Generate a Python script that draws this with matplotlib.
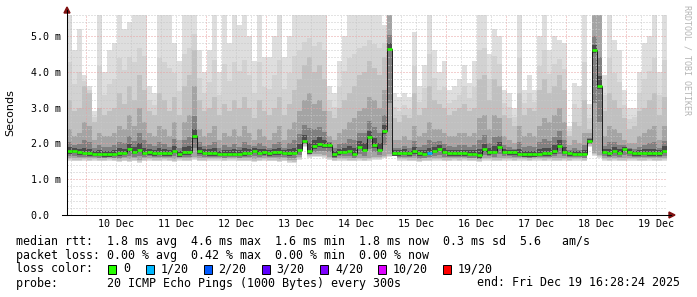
import datetime as dt
import numpy as np
import matplotlib
matplotlib.use("Agg")
import matplotlib.pyplot as plt
from matplotlib.lines import Line2D
from matplotlib.patches import Polygon, Rectangle

# ---------------- data (2-hour bins, ms) ----------------
start = dt.datetime(2025, 12, 9, 16, 28, 24)
bin_hours = 2

median = [
    1.78, 1.80, 1.75, 1.74, 1.72, 1.71, 1.71, 1.70, 1.70, 1.71, 1.73, 1.74,
    1.83, 1.76, 1.82, 1.74, 1.75, 1.73, 1.74, 1.72, 1.72, 1.80, 1.70, 1.75,
    1.75, 2.20, 1.78, 1.74, 1.73, 1.73, 1.71, 1.71, 1.71, 1.71, 1.71, 1.73,
    1.74, 1.80, 1.74, 1.75, 1.73, 1.75, 1.75, 1.74, 1.73, 1.74, 1.82, 2.07,
    1.78, 1.92, 1.98, 1.95, 1.95, 1.70, 1.75, 1.76, 1.80, 1.71, 1.90, 1.82,
    2.18, 1.95, 1.82, 2.34, 4.65, 1.73, 1.73, 1.74, 1.72, 1.78, 1.72, 1.71,
    1.74, 1.80, 1.85, 1.76, 1.73, 1.72, 1.72, 1.72, 1.71, 1.71, 1.67, 1.84,
    1.75, 1.76, 1.90, 1.77, 1.75, 1.75, 1.71, 1.70, 1.69, 1.70, 1.71, 1.72,
    1.73, 1.78, 1.93, 1.76, 1.72, 1.71, 1.71, 1.71, 2.07, 4.60, 3.60, 1.76,
    1.72, 1.80, 1.74, 1.85, 1.77, 1.72, 1.72, 1.74, 1.73, 1.72, 1.73, 1.80,
]
top = [
    5.6, 4.6, 5.2, 3.9, 3.6, 2.9, 5.6, 4.0, 4.6, 4.8, 5.6, 5.2,
    5.4, 5.6, 5.6, 5.6, 3.6, 3.4, 5.6, 5.6, 5.6, 4.8, 4.3, 5.6,
    5.6, 5.6, 4.6, 4.0, 4.6, 5.6, 4.0, 5.6, 4.8, 5.6, 5.3, 5.6,
    5.0, 4.3, 5.6, 4.4, 4.4, 5.0, 5.6, 4.4, 5.0, 5.6, 5.6, 5.6,
    5.6, 5.6, 5.6, 5.6, 3.6, 3.4, 4.3, 5.0, 5.6, 5.6, 5.6, 5.6,
    5.6, 5.6, 5.6, 5.3, 5.6, 3.4, 3.3, 3.4, 3.3, 5.1, 3.6, 4.2,
    5.6, 4.6, 4.0, 4.3, 3.5, 3.6, 3.8, 4.2, 3.7, 4.3, 5.6, 5.6,
    4.5, 5.2, 5.0, 3.5, 3.4, 3.0, 5.6, 3.5, 3.9, 3.5, 5.0, 5.6,
    4.6, 5.0, 4.9, 4.8, 2.5, 3.7, 3.6, 5.6, 3.1, 5.6, 5.6, 3.9,
    5.6, 4.9, 4.6, 3.5, 3.0, 3.0, 4.0, 4.8, 5.0, 5.6, 4.0, 5.6,
]
p80 = [
    3.2, 2.9, 3.0, 3.6, 3.4, 2.6, 3.0, 2.8, 2.9, 3.0, 3.4, 3.1,
    3.6, 3.2, 3.9, 3.5, 2.9, 2.8, 3.4, 3.2, 2.9, 3.3, 2.8, 3.6,
    3.9, 4.6, 3.2, 2.9, 3.0, 3.3, 2.8, 3.1, 2.9, 3.2, 3.0, 3.3,
    3.0, 2.7, 3.2, 2.9, 2.8, 3.0, 3.3, 2.8, 3.1, 3.5, 3.8, 4.2,
    4.4, 4.0, 4.2, 3.8, 2.9, 2.7, 3.0, 3.2, 3.4, 3.6, 3.9, 4.0,
    4.3, 4.1, 3.9, 4.4, 5.6, 2.7, 2.6, 2.8, 2.7, 3.4, 2.8, 3.0,
    3.6, 3.2, 3.1, 3.0, 2.8, 2.9, 3.0, 3.1, 2.9, 3.0, 3.8, 3.9,
    3.2, 3.8, 3.6, 2.8, 2.7, 2.5, 3.4, 2.8, 3.0, 2.9, 3.5, 3.8,
    3.4, 3.6, 3.9, 3.5, 2.2, 2.6, 2.5, 3.2, 2.4, 5.6, 5.6, 2.9,
    3.4, 3.2, 3.0, 2.7, 2.4, 2.5, 2.9, 3.0, 3.2, 3.4, 2.8, 3.3,
]
p65 = [
    2.4, 2.2, 2.3, 2.6, 2.5, 2.1, 2.3, 2.2, 2.2, 2.3, 2.5, 2.4,
    2.8, 2.5, 3.0, 2.6, 2.3, 2.2, 2.5, 2.4, 2.2, 2.6, 2.1, 2.6,
    2.8, 3.6, 2.4, 2.2, 2.3, 2.5, 2.1, 2.3, 2.2, 2.4, 2.2, 2.5,
    2.3, 2.1, 2.4, 2.2, 2.1, 2.3, 2.5, 2.1, 2.4, 2.6, 2.9, 3.2,
    3.4, 3.1, 3.2, 2.9, 2.2, 2.1, 2.3, 2.4, 2.6, 2.7, 2.9, 3.0,
    3.3, 3.2, 3.0, 3.5, 5.6, 2.1, 2.1, 2.2, 2.1, 2.5, 2.2, 2.3,
    2.6, 2.4, 2.4, 2.3, 2.2, 2.2, 2.3, 2.3, 2.2, 2.3, 2.7, 2.8,
    2.4, 2.8, 2.7, 2.2, 2.1, 2.0, 2.5, 2.2, 2.3, 2.2, 2.5, 2.7,
    2.6, 2.8, 3.0, 2.6, 1.95, 2.1, 2.0, 2.3, 2.3, 5.6, 5.6, 2.2,
    2.5, 2.4, 2.3, 2.1, 2.0, 2.0, 2.2, 2.3, 2.4, 2.5, 2.1, 2.5,
]
low = [
    1.52, 1.50, 1.50, 1.52, 1.50, 1.52, 1.50, 1.50, 1.52, 1.50, 1.48, 1.50,
    1.48, 1.50, 1.46, 1.50, 1.52, 1.50, 1.50, 1.52, 1.50, 1.48, 1.52, 1.50,
    1.50, 1.55, 1.50, 1.50, 1.52, 1.52, 1.52, 1.50, 1.52, 1.52, 1.50, 1.50,
    1.50, 1.48, 1.50, 1.52, 1.50, 1.50, 1.48, 1.50, 1.46, 1.45, 1.55, 1.90,
    1.60, 1.62, 1.62, 1.60, 1.55, 1.50, 1.52, 1.52, 1.50, 1.50, 1.52, 1.50,
    1.52, 1.55, 1.55, 1.58, 1.62, 1.72, 1.52, 1.52, 1.50, 1.50, 1.48, 1.50,
    1.50, 1.52, 1.52, 1.50, 1.50, 1.52, 1.50, 1.52, 1.50, 1.50, 1.48, 1.52,
    1.52, 1.50, 1.50, 1.52, 1.52, 1.50, 1.52, 1.52, 1.50, 1.52, 1.52, 1.50,
    1.52, 1.50, 1.50, 1.52, 1.50, 1.52, 1.52, 1.50, 1.90, 1.65, 1.60, 1.52,
    1.50, 1.52, 1.50, 1.50, 1.52, 1.52, 1.50, 1.50, 1.52, 1.50, 1.50, 1.52,
]
loss = [0] * 120
loss[72] = 1

loss_labels = ["0", "1/20", "2/20", "3/20", "4/20", "10/20", "19/20"]
loss_colors = ["#26ff00", "#00b8ff", "#0059ff", "#5e00ff", "#7e00ff", "#dd00ff", "#ff0000"]
day_labels = ["10 Dec", "11 Dec", "12 Dec", "13 Dec", "14 Dec",
              "15 Dec", "16 Dec", "17 Dec", "18 Dec", "19 Dec"]
ytick_vals = [0, 1, 2, 3, 4, 5]
ytick_labels = ["0.0  ", "1.0 m", "2.0 m", "3.0 m", "4.0 m", "5.0 m"]

# ---------------- figure ----------------
W, H = 697, 297
fig = plt.figure(figsize=(W / 100, H / 100), dpi=100)
fig.patch.set_facecolor("white")

def fx(px):
    return px / W

def fy(py):
    return 1 - py / H

ymax = 5.62
ax_top_px = 215 - ymax * 35.8
ax = fig.add_axes([fx(67), fy(215), 600 / W, (215 - ax_top_px) / H])
ax.set_facecolor("white")

n = len(median)
edges = np.arange(n + 1) * bin_hours
med = np.array(median)
topa = np.array(top)
p80a = np.array(p80)
p65a = np.array(p65)
lowa = np.array(low)

# smoke layers (light -> dark towards the median)
ax.stairs(topa, edges, baseline=lowa, fill=True, color="#dedede", lw=0, zorder=1)
ax.stairs(p80a + 0.45 * (topa - p80a), edges, baseline=lowa + 0.02, fill=True,
          color="#d2d2d2", lw=0, zorder=1.05)
ax.stairs(p80a, edges, baseline=lowa + 0.04, fill=True, color="#c0c0c0", lw=0, zorder=1.1)
ax.stairs(p65a, edges, baseline=lowa + 0.08, fill=True, color="#a4a4a4", lw=0, zorder=1.2)
dark_top = med + 0.4 * (p65a - med)
dark_bot = med - 0.5 * (med - lowa)
ax.stairs(dark_top, edges, baseline=dark_bot, fill=True, color="#808080", lw=0, zorder=1.3)
ax.stairs(med + 0.13 * (p65a - med) + 0.03, edges, baseline=med - 0.07, fill=True,
          color="#4c4c4c", lw=0, zorder=1.4)

# grid
total_h = n * bin_hours
ax.set_xlim(0, total_h)
ax.set_ylim(0, ymax)
first_mid = dt.datetime(2025, 12, 10, 0, 0, 0)
hrs_first_mid = (first_mid - start).total_seconds() / 3600
t = hrs_first_mid - 18
while t <= total_h:
    if t >= 0:
        k = (t - hrs_first_mid) / 24
        if abs(k - round(k)) < 1e-6:
            ax.axvline(t, color="#e8a0a0", lw=0.72, ls=(0, (1, 2)), zorder=2)
        else:
            ax.axvline(t, color="#c8c8c8", lw=0.72, ls=(0, (1, 2)), zorder=2)
    t += 6
for v in np.arange(0.2, ymax, 0.2):
    if abs(v - round(v)) < 1e-6:
        continue
    ax.axhline(v, color="#c8c8c8", lw=0.72, ls=(0, (1, 2)), zorder=2)
for v in ytick_vals[1:]:
    ax.axhline(v, color="#e8a0a0", lw=0.72, ls=(0, (1, 2)), zorder=2)

# median
ax.stairs(med, edges, baseline=None, color="#1a1a1a", lw=0.7, zorder=3)
ax.hlines(med, edges[:-1], edges[1:], colors=[loss_colors[l] for l in loss],
          lw=1.9, zorder=4)

# ticks
noons = [(dt.datetime(2025, 12, 10 + i, 12, 0, 0) - start).total_seconds() / 3600
         for i in range(len(day_labels))]
ax.set_xticks(noons)
ax.set_xticklabels(day_labels, family="DejaVu Sans Mono", fontsize=7.2)
ax.set_yticks(ytick_vals)
ax.set_yticklabels(ytick_labels, family="DejaVu Sans Mono", fontsize=7.2)
ax.tick_params(axis="x", length=0, pad=3.2)
ax.tick_params(axis="y", length=0, pad=4.5)
for s in ax.spines.values():
    s.set_visible(False)

# axes lines and arrows
fig.add_artist(Line2D([fx(67), fx(67)], [fy(215), fy(10)], color="black", lw=0.75))
fig.add_artist(Line2D([fx(62), fx(671)], [fy(215), fy(215)], color="black", lw=0.75))
fig.add_artist(Polygon([[fx(64), fy(13)], [fx(70), fy(13)], [fx(67), fy(7)]],
                       closed=True, color="#7f1010", transform=fig.transFigure))
fig.add_artist(Polygon([[fx(669), fy(212)], [fx(669), fy(218)], [fx(675), fy(215)]],
                       closed=True, color="#7f1010", transform=fig.transFigure))

# labels
fig.text(fx(10), fy(113), "Seconds", rotation=90, ha="center", va="center",
         family="DejaVu Sans", fontsize=8)
fig.text(fx(687), fy(5), "RRDTOOL / TOBI OETIKER", rotation=270, ha="center", va="top",
         family="DejaVu Sans Mono", fontsize=6, color="#b4b4b4")

mono = dict(family="DejaVu Sans Mono", fontsize=8.4, va="center")
fig.text(fx(16), fy(241),
         "median rtt:  1.8 ms avg  4.6 ms max  1.6 ms min  1.8 ms now  0.3 ms sd  5.6   am/s",
         **mono)
fig.text(fx(16), fy(255),
         "packet loss: 0.00 % avg  0.42 % max  0.00 % min  0.00 % now", **mono)
fig.text(fx(16), fy(269), "loss color:", **mono)
sq_x = [108, 145.5, 203.5, 261.5, 320, 378, 443]
for xs, lab, col in zip(sq_x, loss_labels, loss_colors):
    fig.add_artist(Rectangle((fx(xs), fy(273.5)), 8 / W, 9 / H, facecolor=col,
                             edgecolor="black", lw=0.7, transform=fig.transFigure))
    fig.text(fx(xs + 15), fy(269), lab, **mono)
fig.text(fx(16), fy(283), "probe:       20 ICMP Echo Pings (1000 Bytes) every 300s", **mono)
fig.text(fx(680), fy(283), "end: Fri Dec 19 16:28:24 2025", ha="right",
         family="DejaVu Sans Mono", fontsize=8.4, va="center")

fig.savefig("out.png", dpi=100, facecolor="white")
